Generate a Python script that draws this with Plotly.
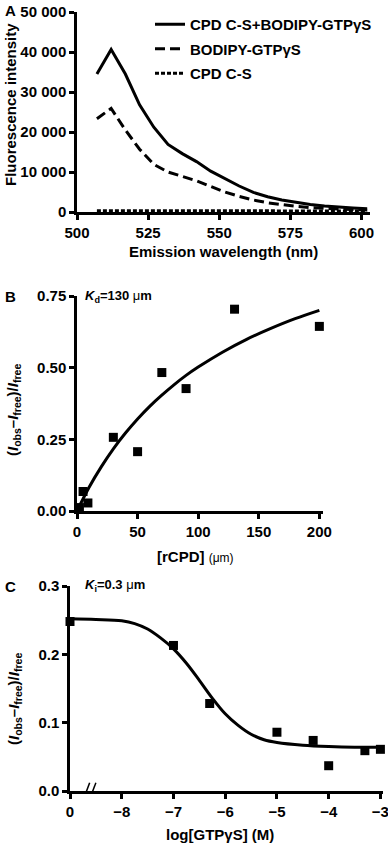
import plotly.graph_objects as go

W, H = 388, 844

# ---------------- Panel A data ----------------
wavelength = [507, 512, 517, 522, 527, 532, 537, 542, 547, 552, 557, 562,
              567, 572, 577, 582, 587, 592, 597, 602]
cpd_bodipy = [34500, 40600, 34500, 26800, 21200, 16900, 14600, 12600, 10200, 8300,
              6500, 4900, 3800, 3000, 2400, 1900, 1500, 1200, 1000, 800]
bodipy = [23300, 25900, 20500, 15700, 11900, 10000, 8900, 7800, 6400, 5000,
          3900, 3000, 2300, 1800, 1400, 1100, 900, 700, 600, 500]
cpd_cs = [320, 330, 320, 310, 300, 300, 300, 290, 290, 290,
          280, 280, 280, 280, 270, 270, 270, 270, 270, 270]
a_yticks = [0, 10000, 20000, 30000, 40000, 50000]
a_yticklabels = ["0", "10 000", "20 000", "30 000", "40 000", "50 000"]
a_xticks = [500, 525, 550, 575, 600]

# ---------------- Panel B data ----------------
rcpd = [2, 5, 9, 30, 50, 70, 90, 130, 200]
ratio_b = [0.012, 0.068, 0.028, 0.257, 0.207, 0.483, 0.427, 0.704, 0.644]
fit_b_x = [0, 10, 20, 30, 40, 50, 60, 70, 80, 90, 100, 120, 140, 160, 180, 200]
fit_b_y = [0.0, 0.083, 0.154, 0.217, 0.272, 0.321, 0.365, 0.404, 0.440, 0.473,
           0.502, 0.554, 0.599, 0.637, 0.671, 0.700]
b_xticks = [0, 50, 100, 150, 200]
b_yticks = [0, 0.25, 0.5, 0.75]
b_yticklabels = ["0.00", "0.25", "0.50", "0.75"]

# ---------------- Panel C data ----------------
# x position -9 stands for the "0" (no GTPγS) point on the broken axis
log_gtp = [-9, -7, -6.3, -5, -4.3, -4, -3.3, -3]
ratio_c = [0.248, 0.213, 0.128, 0.086, 0.074, 0.037, 0.059, 0.061]
fit_c_x = [-9, -8.5, -8, -7.75, -7.5, -7.25, -7, -6.75, -6.5, -6.25, -6, -5.75,
           -5.5, -5.25, -5, -4.5, -4, -3.5, -3]
fit_c_y = [0.252, 0.251, 0.249, 0.245, 0.237, 0.224, 0.208, 0.187, 0.162, 0.136,
           0.113, 0.096, 0.083, 0.075, 0.071, 0.067, 0.065, 0.064, 0.064]
c_xticks = [-9, -8, -7, -6, -5, -4, -3]
c_xticklabels = ["0", "\u22128", "\u22127", "\u22126", "\u22125", "\u22124", "\u22123"]
c_yticks = [0, 0.1, 0.2, 0.3]
c_yticklabels = ["0.0", "0.1", "0.2", "0.3"]

FONT = "Liberation Sans, Arial, Helvetica, sans-serif"


def px_x(p):
    return p / W


def px_y(p):
    return 1 - p / H


fig = go.Figure()

# Panel A traces
fig.add_trace(go.Scatter(x=wavelength, y=cpd_bodipy, mode="lines", name="CPD C-S+BODIPY-GTP\u03b3S",
                         line=dict(color="black", width=3), xaxis="x", yaxis="y",
                         legendgroup="g1"))
fig.add_trace(go.Scatter(x=wavelength, y=bodipy, mode="lines", name="BODIPY-GTP\u03b3S",
                         line=dict(color="black", width=3, dash="10px,5px"), xaxis="x", yaxis="y",
                         legendgroup="g2"))
fig.add_trace(go.Scatter(x=wavelength, y=cpd_cs, mode="lines", name="CPD C-S",
                         line=dict(color="black", width=3, dash="4px,2px"), xaxis="x", yaxis="y",
                         legendgroup="g3"))

# Panel B traces
fig.add_trace(go.Scatter(x=fit_b_x, y=fit_b_y, mode="lines", line=dict(color="black", width=3, shape="spline"),
                         xaxis="x2", yaxis="y2", showlegend=False))
fig.add_trace(go.Scatter(x=rcpd, y=ratio_b, mode="markers",
                         marker=dict(symbol="square", size=9, color="black"),
                         xaxis="x2", yaxis="y2", showlegend=False, cliponaxis=False))

# Panel C traces
fig.add_trace(go.Scatter(x=fit_c_x, y=fit_c_y, mode="lines", line=dict(color="black", width=3, shape="spline"),
                         xaxis="x3", yaxis="y3", showlegend=False))
fig.add_trace(go.Scatter(x=log_gtp, y=ratio_c, mode="markers",
                         marker=dict(symbol="square", size=9, color="black"),
                         xaxis="x3", yaxis="y3", showlegend=False, cliponaxis=False))

axis_common = dict(showgrid=False, zeroline=False, showline=True, linecolor="black", linewidth=2.5,
                   ticks="outside", ticklen=5, tickwidth=2.5, tickcolor="black",
                   tickfont=dict(family=FONT, size=15, color="black", weight="bold"),
                   ticklabeloverflow="allow", automargin=False, fixedrange=True)

fig.update_layout(
    width=W, height=H,
    margin=dict(l=0, r=0, t=0, b=0),
    paper_bgcolor="white", plot_bgcolor="white",
    font=dict(family=FONT, size=15, color="black", weight="bold"),
    xaxis=dict(axis_common, domain=[px_x(77), px_x(370)], range=[500, 603],
               tickvals=a_xticks, anchor="y"),
    yaxis=dict(axis_common, domain=[px_y(212), px_y(12)], range=[0, 50000],
               tickvals=a_yticks, ticktext=a_yticklabels, anchor="x"),
    xaxis2=dict(axis_common, domain=[px_x(77), px_x(323)], range=[0, 203],
                tickvals=b_xticks, anchor="y2"),
    yaxis2=dict(axis_common, domain=[px_y(511), px_y(296)], range=[0, 0.75],
                tickvals=b_yticks, ticktext=b_yticklabels, anchor="x2"),
    xaxis3=dict(axis_common, domain=[px_x(70), px_x(383)], range=[-9, -2.95],
                tickvals=c_xticks, ticktext=c_xticklabels, anchor="y3"),
    yaxis3=dict(axis_common, domain=[px_y(791), px_y(586)], range=[0, 0.3],
                tickvals=c_yticks, ticktext=c_yticklabels, anchor="x3"),
    showlegend=True,
    legend=dict(x=px_x(150), y=px_y(8), xanchor="left", yanchor="top",
                font=dict(family=FONT, size=15, color="black", weight="bold"),
                itemwidth=30, tracegroupgap=2, bgcolor="rgba(0,0,0,0)"),
)

ann = []


def add_text(text, xp, yp, size=14, angle=0, xanchor="center", yanchor="middle"):
    ann.append(dict(text=text, x=px_x(xp), y=px_y(yp), xref="paper", yref="paper",
                    showarrow=False, textangle=angle, xanchor=xanchor, yanchor=yanchor,
                    font=dict(family=FONT, size=size, color="black", weight="bold")))


# panel letters
add_text("A", 3, 11, size=15, xanchor="left")
add_text("B", 3, 296, size=15, xanchor="left")
add_text("C", 3, 586, size=15, xanchor="left")

# panel A titles
add_text("Fluorescence intensity", 11, 105, size=15, angle=-90)
add_text("Emission wavelength (nm)", 224, 251, size=15)

ratio_title = ("(<i>I</i><sub>obs</sub>\u2013<i>I</i><sub>free</sub>)/<i>I</i><sub>free</sub>")
# panel B titles
add_text(ratio_title, 14, 410, size=15, angle=-90)
add_text("[rCPD] <span style='font-size:12px;font-weight:normal'>(\u03bcm)</span>", 195, 556, size=15)
add_text("<i>K</i><sub>d</sub>=130 <span style='font-weight:normal'>\u03bc</span>m", 83, 296, size=13,
         xanchor="left")

# panel C titles
add_text(ratio_title, 14, 699, size=15, angle=-90)
add_text("log[GTP\u03b3S] (M)", 220, 834, size=15)
add_text("<i>K</i><sub>i</sub>=0.3 <span style='font-weight:normal'>\u03bc</span>m", 83, 585, size=13,
         xanchor="left")

fig.update_layout(annotations=ann)

# axis break marks on panel C x axis
for dx in (-0.06, 0.06):
    fig.add_shape(type="line", xref="x3", yref="y3",
                  x0=-8.62 + dx - 0.06, x1=-8.62 + dx + 0.06, y0=-0.012, y1=0.012,
                  line=dict(color="black", width=1.5))

fig.write_html("out.html", config={"displayModeBar": False},
               post_script="document.body.style.margin='0';document.body.style.overflow='hidden';")
